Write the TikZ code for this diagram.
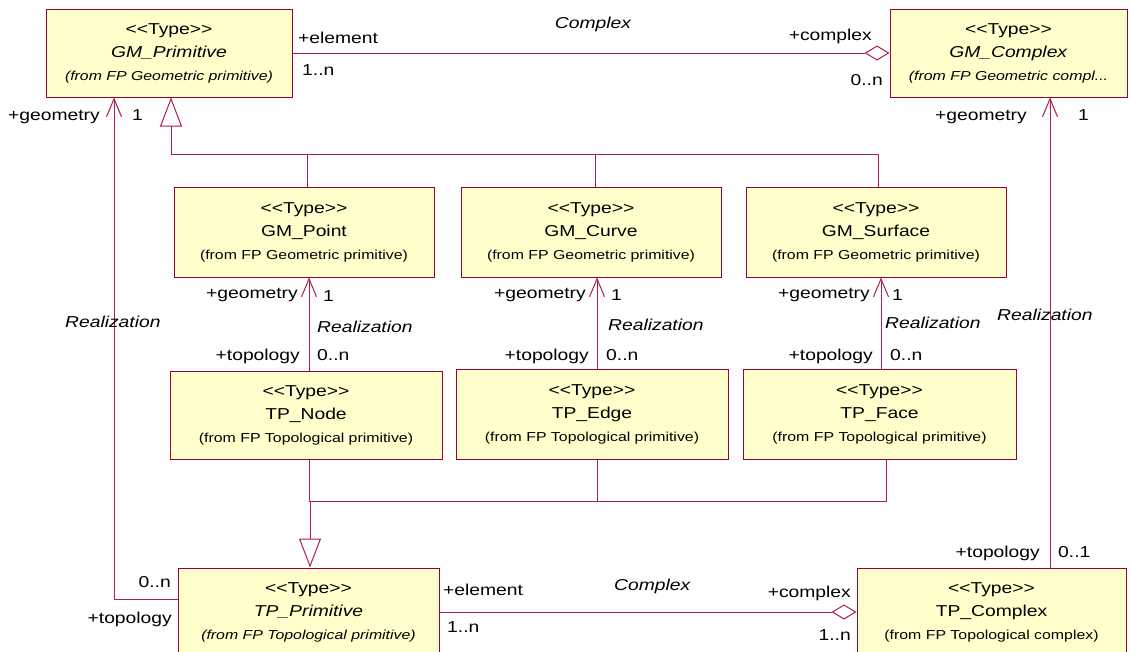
\documentclass[tikz,border=0pt]{standalone}
\usepackage{fontspec}
\setmainfont{Liberation Sans}[FakeStretch=1.22]
\usetikzlibrary{arrows.meta,positioning}

\definecolor{umlfill}{RGB}{255,255,204}
\definecolor{umlborder}{RGB}{153,0,51}
\definecolor{umlline}{RGB}{170,30,80}

\newcommand{\typefont}{\fontsize{15.8}{23}\selectfont}
\newcommand{\fromfont}{\fontsize{13}{23}\selectfont}
\newcommand{\stereo}{<{}<Type>{}>}

\tikzset{
  umlbox/.style={rectangle, draw=umlborder, fill=umlfill, line width=1pt,
    align=center, minimum height=88pt, inner sep=0pt, font=\typefont},
  rolelabel/.style={inner sep=0pt, font=\typefont},
  assoc/.style={draw=umlline, line width=1pt},
  realize/.style={assoc, -{Straight Barb[length=18pt,width=15pt]}},
  inherit/.style={assoc, -{Triangle[open,length=29pt,width=22pt]}},
  aggreg/.style={assoc, -{Diamond[open,length=25pt,width=15pt]}},
}

\begin{document}
\begin{tikzpicture}[x=1pt,y=-1pt]
\useasboundingbox (0,0) rectangle (1130,651);
\clip (0,0) rectangle (1130,651);
\fill[white] (0,0) rectangle (1130,651);

% geometric types
\node[umlbox, minimum width=246pt] at (169,53) (gm_primitive) {
\stereo\\\textit{GM\_Primitive}\\{\fromfont\itshape (from FP Geometric primitive)}
};
\node[umlbox, minimum width=237pt] at (1008.5,53) (gm_complex) {
\stereo\\\textit{GM\_Complex}\\{\fromfont\itshape (from FP Geometric compl...}
};
\node[umlbox, minimum width=260pt, minimum height=90pt] at (304,232) (gm_point) {
\stereo\\GM\_Point\\{\fromfont (from FP Geometric primitive)}
};
\node[umlbox, minimum width=260pt, minimum height=90pt] at (591,232) (gm_curve) {
\stereo\\GM\_Curve\\{\fromfont (from FP Geometric primitive)}
};
\node[umlbox, minimum width=260pt, minimum height=90pt] at (876,232) (gm_surface) {
\stereo\\GM\_Surface\\{\fromfont (from FP Geometric primitive)}
};

% topological types
\node[umlbox, minimum width=272pt] at (306,415) (tp_node) {
\stereo\\TP\_Node\\{\fromfont (from FP Topological primitive)}
};
\node[umlbox, minimum width=272pt, minimum height=90pt] at (592,414) (tp_edge) {
\stereo\\TP\_Edge\\{\fromfont (from FP Topological primitive)}
};
\node[umlbox, minimum width=273pt, minimum height=90pt] at (879.5,414) (tp_face) {
\stereo\\TP\_Face\\{\fromfont (from FP Topological primitive)}
};
\node[umlbox, minimum width=261pt] at (308.5,612) (tp_primitive) {
\stereo\\\textit{TP\_Primitive}\\{\fromfont\itshape (from FP Topological primitive)}
};
\node[umlbox, minimum width=269pt] at (991.5,612) (tp_complex) {
\stereo\\TP\_Complex\\{\fromfont (from FP Topological complex)}
};

% generalisation trees
\coordinate (gm_join) at (171,154);
\coordinate (tp_join) at (310,501);
\draw[inherit] ([xshift=2pt]gm_surface.north) |- (gm_join) -- (gm_join |- gm_primitive.south);
\draw[assoc] ([xshift=3pt]gm_point.north) |- (gm_join);
\draw[assoc] ([xshift=4pt]gm_curve.north) |- (gm_join);

\draw[inherit] ([xshift=6.5pt]tp_face.south) |- (tp_join) -- (tp_join |- tp_primitive.north);
\draw[assoc] ([xshift=3pt]tp_node.south) |- (tp_join);
\draw[assoc] ([xshift=5pt]tp_edge.south) |- (tp_join);

% complex associations
\draw[aggreg] (gm_primitive.east) -- (gm_complex.west);
\draw[aggreg] (tp_primitive.east) -- (tp_complex.west);

% realizations
\draw[realize] ([xshift=3pt]tp_node.north) -- ([xshift=5pt]gm_point.south);
\draw[realize] ([xshift=5pt]tp_edge.north) -- ([xshift=6pt]gm_curve.south);
\draw[realize] ([xshift=1.5pt]tp_face.north) -- ([xshift=5pt]gm_surface.south);
\draw[realize] ([yshift=13pt]tp_primitive.west) -| ([xshift=-55pt]gm_primitive.south);
\draw[realize] ([xshift=58.5pt]tp_complex.north) -- ([xshift=41.5pt]gm_complex.south);

% role names and multiplicities
\node[rolelabel, anchor=base west] at (298,43) (top_elem) {+element};
\node[rolelabel, anchor=base west] at (302,75) (top_elem_m) {1..n};
\node[rolelabel, anchor=base, font=\typefont\itshape] at (593,28) (top_complex) {Complex};
\node[rolelabel, anchor=base east] at (872,40) (top_cplx) {+complex};
\node[rolelabel, anchor=base east] at (883,85) (top_cplx_m) {0..n};

\node[rolelabel, anchor=base east] at (100,120) (l_geom) {+geometry};
\node[rolelabel, anchor=base west] at (132,120) (l_geom_m) {1};
\node[rolelabel, anchor=base west, font=\typefont\itshape] at (65,327) (l_real) {Realization};
\node[rolelabel, anchor=base east] at (171,587) (l_topo_m) {0..n};
\node[rolelabel, anchor=base east] at (172,623) (l_topo) {+topology};

\node[rolelabel, anchor=base east] at (1027,120) (r_geom) {+geometry};
\node[rolelabel, anchor=base west] at (1078,120) (r_geom_m) {1};
\node[rolelabel, anchor=base west, font=\typefont\itshape] at (997,320) (r_real) {Realization};
\node[rolelabel, anchor=base east] at (1040,557) (r_topo) {+topology};
\node[rolelabel, anchor=base west] at (1058,557) (r_topo_m) {0..1};

\node[rolelabel, anchor=base east] at (298,298) (p_geom) {+geometry};
\node[rolelabel, anchor=base west] at (323,301) (p_geom_m) {1};
\node[rolelabel, anchor=base west, font=\typefont\itshape] at (317,332) (p_real) {Realization};
\node[rolelabel, anchor=base east] at (300,360) (p_topo) {+topology};
\node[rolelabel, anchor=base west] at (317,360) (p_topo_m) {0..n};

\node[rolelabel, anchor=base east] at (586,298) (c_geom) {+geometry};
\node[rolelabel, anchor=base west] at (611,300) (c_geom_m) {1};
\node[rolelabel, anchor=base west, font=\typefont\itshape] at (608,330) (c_real) {Realization};
\node[rolelabel, anchor=base east] at (589,360) (c_topo) {+topology};
\node[rolelabel, anchor=base west] at (606,360) (c_topo_m) {0..n};

\node[rolelabel, anchor=base east] at (870,298) (s_geom) {+geometry};
\node[rolelabel, anchor=base west] at (892,300) (s_geom_m) {1};
\node[rolelabel, anchor=base west, font=\typefont\itshape] at (885,328) (s_real) {Realization};
\node[rolelabel, anchor=base east] at (873,360) (s_topo) {+topology};
\node[rolelabel, anchor=base west] at (890,360) (s_topo_m) {0..n};

\node[rolelabel, anchor=base west] at (443,595) (bot_elem) {+element};
\node[rolelabel, anchor=base west] at (447,632) (bot_elem_m) {1..n};
\node[rolelabel, anchor=base west, font=\typefont\itshape] at (614,590) (bot_complex) {Complex};
\node[rolelabel, anchor=base east] at (851,597) (bot_cplx) {+complex};
\node[rolelabel, anchor=base east] at (851,640) (bot_cplx_m) {1..n};

\end{tikzpicture}
\end{document}
